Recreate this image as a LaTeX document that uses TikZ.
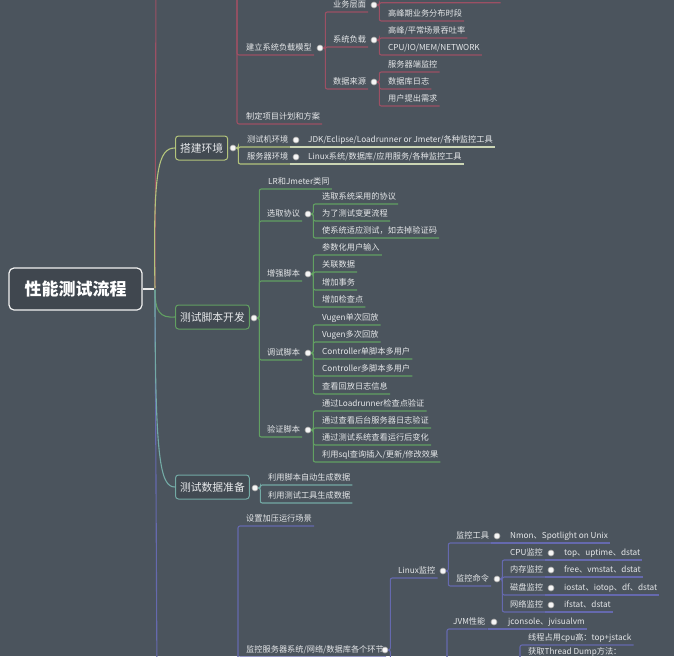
\documentclass[tikz,border=0pt]{standalone}
\usepackage{fontspec}
\setmainfont{Noto Sans CJK SC}
\usepackage{tikz}
\usetikzlibrary{positioning}
\definecolor{bg}{HTML}{4B545D}
\definecolor{tx}{HTML}{E6E8EA}
\definecolor{rd}{HTML}{9C5064}
\definecolor{yg}{HTML}{B3C47C}
\definecolor{yl}{HTML}{CBD5B4}
\definecolor{gr}{HTML}{62A062}
\definecolor{te}{HTML}{73AAA5}
\definecolor{pu}{HTML}{6569AE}

\begin{document}
\begin{tikzpicture}[
  x=1pt, y=-1pt,
  kid/.style={font=\fontsize{8.2}{10}\selectfont,text=tx,anchor=south west,inner xsep=2pt,inner ysep=2.5pt,text height=7pt,text depth=2pt},
  hub/.style={draw=#1,fill=bg!88!black,line width=1pt,rounded corners=3pt,anchor=west,font=\fontsize{10.8}{13}\selectfont,text=tx,inner xsep=4.5pt,minimum height=24pt},
  rootbox/.style={draw=white!90!gray,fill=bg!85!black,line width=1.2pt,rounded corners=5pt,font=\bfseries\fontsize{17}{20}\selectfont,text=white,minimum width=133pt,minimum height=42pt},
  dot/.style={circle,fill=white!92!gray,draw=gray!70,line width=0.6pt,inner sep=0pt,minimum size=6pt},
  ghost/.style={inner sep=0pt},
  ln/.style={draw=#1,line width=1.1pt,rounded corners=2pt},
  cv/.style={draw=#1,line width=1.1pt},
  br/.style={ln=#1,to path={-- ++(2,0) |- (\tikztotarget.south east)}}
]
\useasboundingbox (0,0) rectangle (674,656);
\fill[bg] (0,0) rectangle (674,656);
\clip (0,0) rectangle (674,656);

% root and main branches
\node[rootbox] (root) at (75.5,289) {性能测试流程};
\node[ghost] (jn) at (155,289) {};
\node[ghost] (tp0) at (156,-20) {};
\node[ghost] (bt0) at (157,680) {};
\node[hub=yg] (dj) at (175,148) {搭建环境};
\node[hub=gr] (kf) at (175,317) {测试脚本开发};
\node[hub=te] (sc) at (175,487) {测试数据准备};
\draw[ln=white!85!gray] (root) -- (jn);
\draw[ln=rd] (jn) -- (tp0);
\draw[ln=pu] (jn) -- (bt0);
\draw[cv=yg] (jn) .. controls (153,170) and (158,148) .. (dj.west);
\draw[cv=gr] (jn) .. controls (155,312) and (160,318) .. (kf.west);
\draw[cv=te] (jn) .. controls (155,460) and (160,487) .. (sc.west);

% top branch (off the picture)
\node[ghost] (tp) at (235,-40) {};
\node[kid] (jz) at (244,55) {建立系统负载模型};
\node[kid] (zd) at (244,124) {制定项目计划和方案};
\node[dot] (jzd) at (320,48) {};
\node[kid] (yw) at (331,12) {业务层面};
\node[kid] (xf) at (331,47) {系统负载};
\node[kid] (sj) at (331,89) {数据来源};
\node[dot] (ywd) at (374,5) {};
\node[dot] (xfd) at (374,40) {};
\node[dot] (sjd) at (374,82) {};
\node[ghost] (y0) at (500,2) {};
\node[kid] (gf) at (386,21) {高峰期业务分布时段};
\node[kid] (tt) at (386,38) {高峰/平常场景吞吐率};
\node[kid] (cpu) at (386,55) {CPU/IO/MEM/NETWORK};
\node[kid] (fw) at (386,72) {服务器端监控};
\node[kid] (sk) at (386,89) {数据库日志};
\node[kid] (yh) at (386,106) {用户提出需求};
\path (tp) edge[br=rd] (jz) edge[br=rd] (zd);
\path (jzd.east) edge[br=rd] (yw) edge[br=rd] (xf) edge[br=rd] (sj);
\path (ywd.east) edge[br=rd] (y0) edge[br=rd] (gf);
\path (xfd.east) edge[br=rd] (tt) edge[br=rd] (cpu);
\path (sjd.east) edge[br=rd] (fw) edge[br=rd] (sk) edge[br=rd] (yh);

% 搭建环境
\node[dot] (djd) at (233,148) {};
\node[kid] (cj) at (245,147) {测试机环境};
\node[kid] (fq) at (245,164) {服务器环境};
\node[dot] (cjd) at (296,140) {};
\node[dot] (fqd) at (296,157) {};
\node[kid] (jdk) at (306,147) {JDK/Eclipse/Loadrunner or Jmeter/各种监控工具};
\node[kid] (lx) at (306,164) {Linux系统/数据库/应用服务/各种监控工具};
\path (djd.east) edge[br=yg] (cj) edge[br=yg] (fq);
\draw[ln=yl] (cj.south east) -- (jdk.south east);
\draw[ln=yl] (fq.south east) -- (lx.south east);

% 测试脚本开发
\node[dot] (kfd) at (254,318) {};
\node[kid] (lr) at (266,189) {LR和Jmeter类同};
\node[kid] (xq) at (265,221) {选取协议};
\node[kid] (zq) at (265,281) {增强脚本};
\node[kid] (ts) at (265,360) {调试脚本};
\node[kid] (yz) at (265,437) {验证脚本};
\node[dot] (xqd) at (308,214) {};
\node[dot] (zqd) at (308,274) {};
\node[dot] (tsd) at (308,353) {};
\node[dot] (yzd) at (308,430) {};
\node[kid] (a1) at (320,204) {选取系统采用的协议};
\node[kid] (a2) at (320,221) {为了测试变更流程};
\node[kid] (a3) at (320,238) {使系统适应测试，如去掉验证码};
\node[kid] (b1) at (320,255) {参数化用户输入};
\node[kid] (b2) at (320,272) {关联数据};
\node[kid] (b3) at (320,290) {增加事务};
\node[kid] (b4) at (320,307) {增加检查点};
\node[kid] (c1) at (320,325) {Vugen单次回放};
\node[kid] (c2) at (320,342) {Vugen多次回放};
\node[kid] (c3) at (320,359) {Controller单脚本多用户};
\node[kid] (c4) at (320,376) {Controller多脚本多用户};
\node[kid] (c5) at (320,394) {查看回放日志信息};
\node[kid] (d1) at (320,411) {通过Loadrunner检查点验证};
\node[kid] (d2) at (320,428) {通过查看后台服务器日志验证};
\node[kid] (d3) at (320,445) {通过测试系统查看运行后变化};
\node[kid] (d4) at (320,462) {利用sql查询插入/更新/修改效果};
\path (kfd.east) edge[br=gr] (lr) edge[br=gr] (xq) edge[br=gr] (zq) edge[br=gr] (ts) edge[br=gr] (yz);
\path (xqd.east) edge[br=gr] (a1) edge[br=gr] (a2) edge[br=gr] (a3);
\path (zqd.east) edge[br=gr] (b1) edge[br=gr] (b2) edge[br=gr] (b3) edge[br=gr] (b4);
\path (tsd.east) edge[br=gr] (c1) edge[br=gr] (c2) edge[br=gr] (c3) edge[br=gr] (c4) edge[br=gr] (c5);
\path (yzd.east) edge[br=gr] (d1) edge[br=gr] (d2) edge[br=gr] (d3) edge[br=gr] (d4);

% 测试数据准备
\node[dot] (scd) at (255,488) {};
\node[kid] (e1) at (266,485) {利用脚本自动生成数据};
\node[kid] (e2) at (266,503) {利用测试工具生成数据};
\path (scd.east) edge[br=te] (e1) edge[br=te] (e2);

% bottom branch (off the picture)
\node[ghost] (bt) at (236,720) {};
\node[kid] (sz) at (244,526) {设置加压运行场景};
\node[kid] (jk) at (244,657) {监控服务器系统/网络/数据库各个环节};
\node[dot] (jkd) at (385,650) {};
\node[kid] (lxj) at (396,578) {Linux监控};
\node[dot] (lxd) at (443,571) {};
\node[ghost] (jv) at (440,720) {};
\node[ghost] (jvd) at (445,700) {};
\node[kid] (jg) at (454,543) {监控工具};
\node[dot] (jgd) at (497,536) {};
\node[kid] (nm) at (508,543) {Nmon、Spotlight on Unix};
\node[kid] (ml) at (454,586) {监控命令};
\node[dot] (mld) at (497,579) {};
\node[kid] (f1) at (508,560) {CPU监控};
\node[kid] (f2) at (508,577) {内存监控};
\node[kid] (f3) at (508,595) {磁盘监控};
\node[kid] (f4) at (508,612) {网络监控};
\node[dot] (f1d) at (551,553) {};
\node[dot] (f2d) at (551,570) {};
\node[dot] (f3d) at (551,588) {};
\node[dot] (f4d) at (551,605) {};
\node[kid] (g1) at (562,560) {top、uptime、dstat};
\node[kid] (g2) at (562,577) {free、vmstat、dstat};
\node[kid] (g3) at (562,595) {iostat、iotop、df、dstat};
\node[kid] (g4) at (562,612) {ifstat、dstat};
\node[kid] (jvm) at (451,629) {JVM性能};
\node[dot] (jvmd) at (494,622) {};
\node[kid] (jc) at (506,629) {jconsole、jvisualvm};
\node[ghost] (xcd) at (518,700) {};
\node[kid] (xc1) at (526,645) {线程占用cpu高：top+jstack};
\node[kid] (xc2) at (526,659) {获取Thread Dump方法：};
\path (bt) edge[br=pu] (sz) edge[br=pu] (jk);
\path (jkd.east) edge[br=pu] (lxj) edge[br=pu] (jv);
\path (lxd.east) edge[br=pu] (jg) edge[br=pu] (ml);
\draw[ln=pu] (jg.south east) -- (nm.south east);
\path (mld.east) edge[br=pu] (f1) edge[br=pu] (f2) edge[br=pu] (f3) edge[br=pu] (f4);
\draw[ln=pu] (f1.south east) -- (g1.south east);
\draw[ln=pu] (f2.south east) -- (g2.south east);
\draw[ln=pu] (f3.south east) -- (g3.south east);
\draw[ln=pu] (f4.south east) -- (g4.south east);
\path (jvd) edge[br=pu] (jvm);
\draw[ln=pu] (jvm.south east) -- (jc.south east);
\path (xcd) edge[br=pu] (xc1) edge[br=pu] (xc2);
\end{tikzpicture}
\end{document}
